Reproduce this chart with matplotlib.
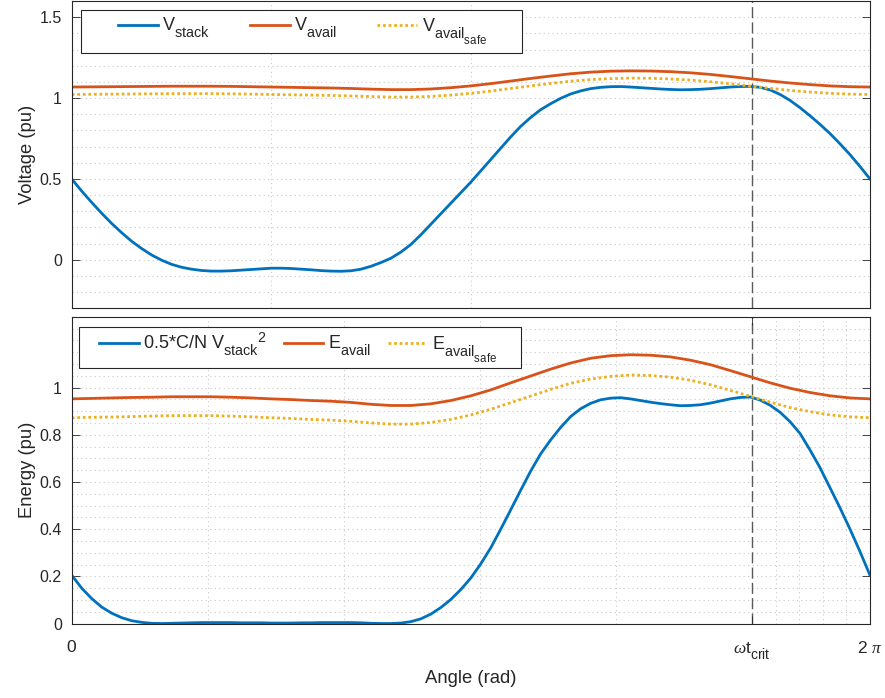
import numpy as np
import matplotlib
matplotlib.use("Agg")
import matplotlib.pyplot as plt
from matplotlib.patches import Rectangle

try:
    import matplotlib._mathtext as _mt
    _mt.SHRINK_FACTOR = 0.8            # MATLAB-like larger subscripts
    _mt.FontConstantsBase.sub1 = 0.8   # and dropped lower
    _mt.FontConstantsBase.sub2 = 0.8
except Exception:
    pass

plt.rcParams['font.family'] = ['Liberation Sans', 'DejaVu Sans']
plt.rcParams['mathtext.fontset'] = 'custom'
plt.rcParams['mathtext.rm'] = 'Liberation Sans'
plt.rcParams['mathtext.it'] = 'Liberation Serif:italic'

# data
wt_crit = 5.354
angle_fine = np.linspace(0, 2 * np.pi, 81)
angle = np.linspace(0, 2 * np.pi, 41)

v_stack = [0.500, 0.425, 0.355, 0.288, 0.225, 0.168, 0.115, 0.070, 0.030, -0.002,
           -0.028, -0.046, -0.058, -0.066, -0.070, -0.070, -0.068, -0.064, -0.060, -0.056,
           -0.052, -0.052, -0.054, -0.058, -0.062, -0.067, -0.070, -0.071, -0.068, -0.058,
           -0.040, -0.017, 0.010, 0.048, 0.095, 0.155, 0.220, 0.285, 0.350, 0.415,
           0.480, 0.550, 0.620, 0.690, 0.760, 0.825, 0.880, 0.928, 0.965, 0.998,
           1.025, 1.044, 1.058, 1.066, 1.070, 1.071, 1.068, 1.064, 1.060, 1.056,
           1.053, 1.051, 1.052, 1.054, 1.058, 1.063, 1.068, 1.071, 1.072, 1.066,
           1.050, 1.022, 0.985, 0.940, 0.890, 0.837, 0.780, 0.717, 0.650, 0.577, 0.500]
v_avail = [1.068, 1.069, 1.070, 1.071, 1.072, 1.073, 1.073, 1.073, 1.072, 1.070,
           1.068, 1.066, 1.064, 1.062, 1.059, 1.055, 1.052, 1.052, 1.056, 1.064,
           1.075, 1.089, 1.105, 1.121, 1.136, 1.150, 1.160, 1.166, 1.168, 1.167,
           1.163, 1.156, 1.146, 1.133, 1.119, 1.105, 1.093, 1.083, 1.075, 1.070, 1.068]
v_safe = [1.022, 1.023, 1.024, 1.025, 1.026, 1.027, 1.027, 1.027, 1.026, 1.024,
          1.022, 1.020, 1.018, 1.016, 1.013, 1.009, 1.006, 1.006, 1.010, 1.018,
          1.029, 1.043, 1.059, 1.075, 1.090, 1.104, 1.114, 1.120, 1.123, 1.122,
          1.118, 1.111, 1.101, 1.088, 1.074, 1.060, 1.047, 1.037, 1.029, 1.024, 1.022]

e_stack = [0.205, 0.150, 0.106, 0.070, 0.044, 0.025, 0.012, 0.005, 0.001, 0.000,
           0.001, 0.002, 0.003, 0.004, 0.004, 0.004, 0.004, 0.003, 0.003, 0.003,
           0.002, 0.002, 0.002, 0.003, 0.003, 0.004, 0.004, 0.004, 0.004, 0.003,
           0.001, 0.000, 0.000, 0.002, 0.008, 0.020, 0.040, 0.068, 0.102, 0.144,
           0.193, 0.253, 0.321, 0.400, 0.482, 0.565, 0.646, 0.719, 0.778, 0.831,
           0.877, 0.910, 0.933, 0.948, 0.955, 0.957, 0.952, 0.945, 0.938, 0.932,
           0.927, 0.923, 0.924, 0.927, 0.934, 0.943, 0.952, 0.958, 0.960, 0.947,
           0.925, 0.895, 0.855, 0.805, 0.735, 0.660, 0.575, 0.490, 0.400, 0.305, 0.205]
e_avail = [0.952, 0.954, 0.956, 0.958, 0.959, 0.961, 0.961, 0.961, 0.959, 0.956,
           0.952, 0.949, 0.945, 0.942, 0.937, 0.929, 0.924, 0.924, 0.931, 0.945,
           0.965, 0.990, 1.020, 1.049, 1.078, 1.104, 1.124, 1.135, 1.139, 1.137,
           1.130, 1.116, 1.097, 1.072, 1.046, 1.020, 0.997, 0.979, 0.965, 0.956, 0.952]
e_safe = [0.872, 0.874, 0.875, 0.877, 0.879, 0.881, 0.881, 0.881, 0.879, 0.876,
          0.872, 0.869, 0.865, 0.862, 0.857, 0.850, 0.845, 0.845, 0.852, 0.865,
          0.884, 0.908, 0.936, 0.964, 0.992, 1.018, 1.036, 1.047, 1.053, 1.051,
          1.044, 1.031, 1.012, 0.988, 0.963, 0.938, 0.915, 0.898, 0.884, 0.876, 0.872]

blue = "#0072BD"
red = "#D95319"
yellow = "#EDB120"
dark = "#262626"
gridc = "#c8c8c8"

fig = plt.figure(figsize=(8.85, 6.98), dpi=100)
ax1 = fig.add_axes([0.081, 0.5583, 0.902, 0.4403])
ax2 = fig.add_axes([0.081, 0.1067, 0.902, 0.4395])

lw = 2.0
dots = (0, (1, 1))
gls = (0, (1, 3))


def style(ax):
    for s in ax.spines.values():
        s.set_color(dark)
        s.set_linewidth(0.8)
    ax.tick_params(direction='in', length=5.5, width=0.6, color=dark, pad=7,
                   labelsize=11.5, labelcolor=dark, top=True, right=True)
    ax.set_xlim(0, 2 * np.pi)


def legend_box(ax, rect, content, fs):
    leg = ax.legend(ncol=3, loc='center left', mode='expand',
                    bbox_to_anchor=(content[0], content[1] - 0.05, content[2], 0.1),
                    borderaxespad=0, borderpad=0, frameon=False, fontsize=fs,
                    handlelength=2.2, handletextpad=0.25)
    for t in leg.get_texts():
        t.set_color(dark)
    ax.add_patch(Rectangle(rect[:2], rect[2], rect[3], transform=ax.transAxes,
                           facecolor='white', edgecolor=dark, lw=0.8, zorder=4))
    leg.set_zorder(5)


# top: voltage
ax1.plot(angle_fine, v_stack, color=blue, lw=lw, label=r'V$_{\mathrm{stack}}$')
ax1.plot(angle, v_avail, color=red, lw=lw, label=r'V$_{\mathrm{avail}}$')
ax1.plot(angle, v_safe, color=yellow, lw=lw, ls=dots,
         label=r'V$_{\mathrm{avail_{safe}}}$')
ax1.set_ylim(-0.3, 1.6)
ax1.set_yticks([0, 0.5, 1, 1.5])
ax1.set_yticklabels(['0', '0.5', '1', '1.5'])
ax1.set_xticks([])
for yv in np.arange(-0.2, 1.6, 0.1):
    ax1.axhline(yv, color=gridc, ls=gls, lw=0.8, zorder=0)
for xv in [np.pi / 2, np.pi]:
    ax1.axvline(xv, color=gridc, ls=gls, lw=0.8, zorder=0)
ax1.axvline(wt_crit, color='#5a5a5a', ls=(0, (8, 3)), lw=1.0, zorder=1)
ax1.set_ylabel('Voltage (pu)', fontsize=13.2, color=dark, labelpad=2.5)
style(ax1)
legend_box(ax1, (0.0117, 0.831, 0.552, 0.14), (0.058, 0.9007, 0.462), 13)

# bottom: energy
ax2.plot(angle_fine, e_stack, color=blue, lw=lw,
         label=r'0.5*C/N V$_{\mathrm{stack}}$$^{2}$')
ax2.plot(angle, e_avail, color=red, lw=lw, label=r'E$_{\mathrm{avail}}$')
ax2.plot(angle, e_safe, color=yellow, lw=lw, ls=dots,
         label=r'E$_{\mathrm{avail_{safe}}}$')
ax2.set_ylim(0, 1.3)
ax2.set_yticks([0, 0.2, 0.4, 0.6, 0.8, 1])
ax2.set_yticklabels(['0', '0.2', '0.4', '0.6', '0.8', '1'])
for yv in np.arange(0.05, 1.3, 0.05):
    ax2.axhline(yv, color=gridc, ls=gls, lw=0.8, zorder=0)
minor_x = list(np.linspace(0, wt_crit, 6)[1:-1]) + list(np.linspace(wt_crit, 2 * np.pi, 6)[1:-1])
for xv in minor_x:
    ax2.axvline(xv, color=gridc, ls=gls, lw=0.8, zorder=0)
ax2.axvline(wt_crit, color='#5a5a5a', ls=(0, (8, 3)), lw=1.0, zorder=1)
style(ax2)
ax2.set_xticks([0, wt_crit, 2 * np.pi])
ax2.set_xticklabels(['0', r'$\omega$t$_{\mathrm{crit}}$', r'2 $\pi$'])
ax2.tick_params(axis='x', pad=12, labelsize=12.5)
ax2.set_xlabel('Angle (rad)', fontsize=13.3, color=dark, labelpad=6)
ax2.set_ylabel('Energy (pu)', fontsize=13.2, color=dark, labelpad=2.5)
legend_box(ax2, (0.0091, 0.8328, 0.5537, 0.1336), (0.0342, 0.8996, 0.4986), 13)

fig.savefig('out.png', dpi=100)
